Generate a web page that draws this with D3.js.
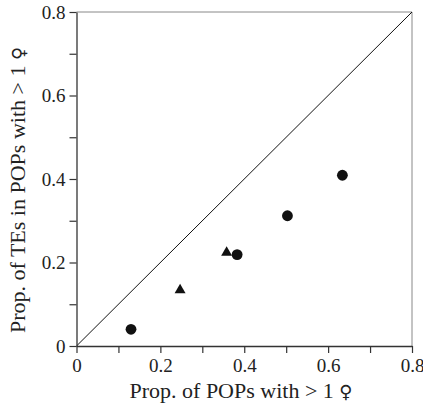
<!DOCTYPE html>
<html>
<head>
<meta charset="utf-8">
<script src="https://cdn.jsdelivr.net/npm/d3@7"></script>
<style>
	body { margin: 0; background: #fff; }
	svg { display: block; }
</style>
</head>
<body>
<div id="chart"></div>
<script>
var d3 = window.d3;

// --------- Data --------- //
var circleX = [0.130, 0.383, 0.503, 0.634];
var circleY = [0.040, 0.219, 0.312, 0.409];
var triangleX = [0.247, 0.358];
var triangleY = [0.134, 0.224];
var tickValues = [0, 0.1, 0.2, 0.3, 0.4, 0.5, 0.6, 0.7, 0.8];
var xTitle = "Prop. of POPs with > 1 ";
var yTitle = "Prop. of TEs in POPs with > 1 ";
var femaleSign = "\u2640";
// --------- /Data --------- //

var SERIF = "'Liberation Serif', 'Times New Roman', serif";

var width = 423, height = 408;
var margin = {top: 12, right: 11, bottom: 62, left: 76.5};

var svg = d3.select("#chart").append("svg")
	.attr("width", width)
	.attr("height", height);

var x = d3.scaleLinear().domain([0, 0.8]).range([margin.left, width - margin.right]);
var y = d3.scaleLinear().domain([0, 0.8]).range([height - margin.bottom, margin.top]);

// label only every other tick, "0" without decimals
function fmt(v){
	var k = Math.round(v * 10);
	if (k % 2 !== 0) return "";
	return k === 0 ? "0" : d3.format(".1f")(v);
}

// frame (top and right sides are lighter)
svg.append("path")
	.attr("d", "M" + x(0) + "," + y(0.8) + "H" + x(0.8) + "V" + y(0))
	.attr("fill", "none")
	.attr("stroke", "#888")
	.attr("stroke-width", 1);

// diagonal
svg.append("line")
	.attr("x1", x(0)).attr("y1", y(0))
	.attr("x2", x(0.8)).attr("y2", y(0.8))
	.attr("stroke", "#111")
	.attr("stroke-width", 1);

var xAxis = svg.append("g")
	.attr("transform", "translate(0," + y(0) + ")")
	.call(d3.axisBottom(x).tickValues(tickValues).tickFormat(fmt).tickSize(7).tickPadding(6).tickSizeOuter(0));

var yAxis = svg.append("g")
	.attr("transform", "translate(" + x(0) + ",0)")
	.call(d3.axisLeft(y).tickValues(tickValues).tickFormat(fmt).tickSize(7).tickPadding(4).tickSizeOuter(0));

[xAxis, yAxis].forEach(function(g){
	g.attr("font-family", SERIF).attr("font-size", 19);
	g.select(".domain").attr("stroke", "#333").attr("stroke-width", 1.3);
	g.selectAll(".tick line").attr("stroke", "#333").attr("stroke-width", 1.2);
	g.selectAll(".tick text")
		.style("font-family", SERIF)
		.style("font-size", "19px")
		.attr("fill", "#222");
});

// circles
svg.append("g").selectAll("circle")
	.data(circleX)
	.enter().append("circle")
	.attr("cx", function(d){ return x(d); })
	.attr("cy", function(d, i){ return y(circleY[i]); })
	.attr("r", 5.4)
	.attr("fill", "#111");

// triangles
var tri = d3.symbol().type(d3.symbolTriangle).size(52);
svg.append("g").selectAll("path")
	.data(triangleX)
	.enter().append("path")
	.attr("d", tri)
	.attr("transform", function(d, i){ return "translate(" + x(d) + "," + y(triangleY[i]) + ")"; })
	.attr("fill", "#111");

// axis titles
function title(sel, label){
	sel.attr("text-anchor", "middle")
		.attr("fill", "#222")
		.style("font-family", SERIF)
		.style("font-size", "22px");
	sel.append("tspan").text(label);
	sel.append("tspan")
		.style("font-family", "'DejaVu Serif', serif")
		.style("font-size", "18px")
		.text(femaleSign);
}

title(svg.append("text").attr("x", 241).attr("y", 398), xTitle);
title(svg.append("text").attr("transform", "translate(25,190) rotate(-90)"), yTitle);
</script>
</body>
</html>
